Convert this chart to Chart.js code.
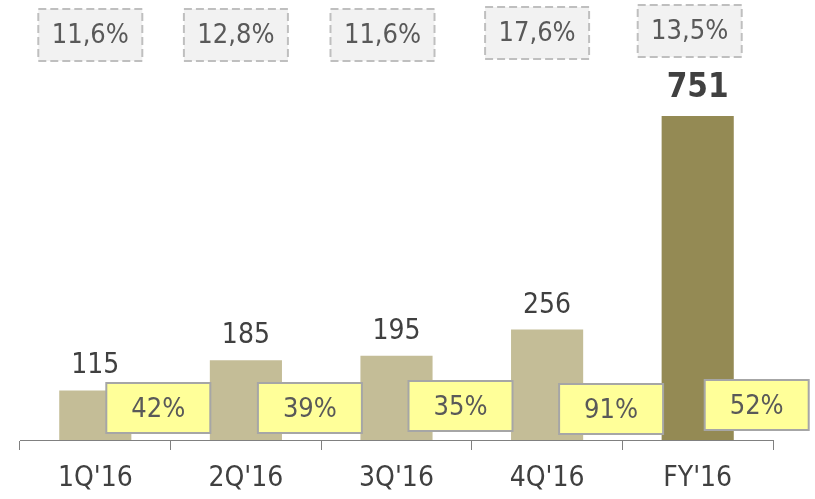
<!DOCTYPE html>
<html>
<head>
<meta charset="utf-8">
<script src="https://cdn.jsdelivr.net/npm/chart.js@4/dist/chart.umd.min.js"></script>
<style>
  html, body { margin: 0; padding: 0; background: #ffffff; }
  #wrap { width: 815px; height: 499px; position: relative; }
</style>
</head>
<body>
<div id="wrap"><canvas id="c" width="815" height="499"></canvas></div>
<script>
// ---- data ----
const categories = ["1Q'16", "2Q'16", "3Q'16", "4Q'16", "FY'16"];
const values = [115, 185, 195, 256, 751];
const marginLabels = ["11,6%", "12,8%", "11,6%", "17,6%", "13,5%"];
const shareLabels = ["42%", "39%", "35%", "91%", "52%"];

// ---- layout / style (not data) ----
const FONT = '"DejaVu Sans Condensed", "DejaVu Sans", Verdana, sans-serif';
const barColors = ['#c4bd97', '#c4bd97', '#c4bd97', '#c4bd97', '#948a54'];
const topBoxDx = [-5, -10, -14, -10, -8];
const topBoxY = [9, 9, 9, 7, 5];
const yelBoxDx = [11, 12, 12, 12, 7];
const yelBoxY = [383, 383, 381, 384, 380];

const overlay = {
  id: 'overlay',
  afterDatasetsDraw(chart) {
    const ctx = chart.ctx;
    const xs = chart.scales.x, ys = chart.scales.y;
    ctx.save();
    values.forEach((v, i) => {
      const cx = xs.getPixelForValue(i);
      const top = ys.getPixelForValue(v);
      // value label
      const isTotal = i === values.length - 1;
      ctx.fillStyle = '#404040';
      ctx.font = (isTotal ? 'bold 33px ' : '28px ') + FONT;
      ctx.textAlign = 'center';
      ctx.textBaseline = 'alphabetic';
      ctx.fillText(String(v), cx, top - (isTotal ? 19 : 17));

      // top dashed margin box
      const bw = 104, bh = 52;
      const bx = cx + topBoxDx[i] - bw / 2, by = topBoxY[i];
      ctx.fillStyle = '#f2f2f2';
      ctx.fillRect(bx, by, bw, bh);
      ctx.setLineDash([8, 4]);
      ctx.lineWidth = 2;
      ctx.strokeStyle = '#bfbfbf';
      ctx.strokeRect(bx, by, bw, bh);
      ctx.setLineDash([]);
      ctx.fillStyle = '#595959';
      ctx.font = '27px ' + FONT;
      ctx.textBaseline = 'middle';
      ctx.fillText(marginLabels[i], bx + bw / 2, by + bh / 2 + 1);

      // yellow share box
      const yw = 104, yh = 50;
      const yx = cx + yelBoxDx[i], yy = yelBoxY[i];
      ctx.fillStyle = '#ffff99';
      ctx.fillRect(yx, yy, yw, yh);
      ctx.lineWidth = 2;
      ctx.strokeStyle = '#a6a6a6';
      ctx.strokeRect(yx, yy, yw, yh);
      ctx.fillStyle = '#595959';
      ctx.font = '27px ' + FONT;
      ctx.fillText(shareLabels[i], yx + yw / 2, yy + yh / 2 + 2);
    });
    ctx.restore();
  }
};

new Chart(document.getElementById('c'), {
  type: 'bar',
  data: {
    labels: categories,
    datasets: [{
      data: values,
      backgroundColor: barColors,
      borderWidth: 0,
      categoryPercentage: 1,
      barPercentage: 0.479
    }]
  },
  options: {
    responsive: false,
    animation: false,
    events: [],
    layout: { padding: { left: 20, right: 42, top: 10, bottom: 0 } },
    plugins: { legend: { display: false }, tooltip: { enabled: false } },
    scales: {
      x: {
        offset: true,
        grid: { display: true, offset: true, drawOnChartArea: false, tickLength: 10, color: '#808080', lineWidth: 1 },
        border: { display: true, color: '#808080', width: 1 },
        ticks: { color: '#404040', font: { family: FONT, size: 28 }, padding: 12, maxRotation: 0 },
        afterFit(scale) { scale.height = 59; }
      },
      y: {
        display: false,
        min: 0,
        max: 751 * (440 - 10) / 324
      }
    }
  },
  plugins: [overlay]
});
</script>
</body>
</html>
